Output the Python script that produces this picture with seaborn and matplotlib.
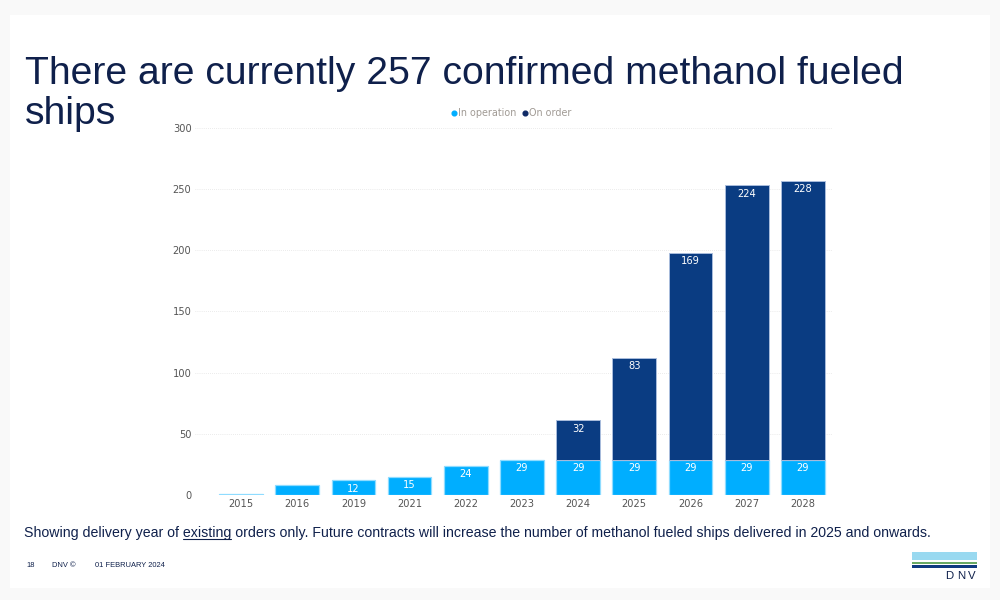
import matplotlib
matplotlib.use("Agg")
import matplotlib.pyplot as plt
from matplotlib.lines import Line2D
from matplotlib.patches import Rectangle
import seaborn as sns

# delivery years on the x axis (2017, 2018 and 2020 are not in the chart)
years = ["2015", "2016", "2019", "2021", "2022", "2023", "2024", "2025", "2026", "2027", "2028"]
in_operation = [1, 8, 12, 15, 24, 29, 29, 29, 29, 29, 29]
order_years = ["2024", "2025", "2026", "2027", "2028"]
on_order = [32, 83, 169, 224, 228]
y_ticks = [0, 50, 100, 150, 200, 250, 300]

# the two smallest bars carry no label
operation_labels = ["", "", "12", "15", "24", "29", "29", "29", "29", "29", "29"]

COLOR_OPERATION = "#00aeff"
COLOR_ORDER = "#0a3c82"
COLOR_TEXT = "#0f204b"
COLOR_TICK = "#555555"

sns.set_theme(style="white")

fig = plt.figure(figsize=(10, 6), dpi=100, facecolor="#f9f9f9")

# white slide on a slightly grey page
fig.add_artist(Rectangle((0.01, 0.02), 0.98, 0.955, transform=fig.transFigure,
                         facecolor="white", edgecolor="none", zorder=-5))

ax = fig.add_axes([0.195, 0.175, 0.637, 0.6117])
ax.patch.set_alpha(0)

sns.barplot(x=years, y=in_operation, order=years, color=COLOR_OPERATION, saturation=1,
            width=0.78, errorbar=None, edgecolor="#8fdcff", linewidth=0.9, ax=ax)
sns.barplot(x=order_years, y=on_order, order=years, color=COLOR_ORDER, saturation=1,
            width=0.78, errorbar=None, edgecolor="#a9bcdc", linewidth=0.7,
            bottom=in_operation[-5:], ax=ax)

ax.bar_label(ax.containers[0], labels=operation_labels, label_type="edge", padding=-9.5,
             color="white", fontsize=7.1)
ax.bar_label(ax.containers[1], labels=[str(v) for v in on_order], label_type="edge", padding=-9.5,
             color="white", fontsize=7.1)

ax.set_xlim(-0.82, 10.52)
ax.set_ylim(0, 300)
ax.set_yticks(y_ticks)
ax.set_xlabel("")
ax.set_ylabel("")
ax.yaxis.grid(True, linestyle=(0, (1, 2)), linewidth=0.5, color="#d8d8d8")
ax.set_axisbelow(True)
ax.tick_params(axis="both", length=0, labelsize=7.1, labelcolor=COLOR_TICK)
ax.tick_params(axis="y", pad=2.5)
ax.tick_params(axis="x", pad=3)
for spine in ax.spines.values():
    spine.set_visible(False)

# legend sits centred above the plot, small round markers
handles = [
    Line2D([], [], linestyle="none", marker="o", markersize=3.4, color=COLOR_OPERATION),
    Line2D([], [], linestyle="none", marker="o", markersize=3.4, color="#0f2a66"),
]
fig.legend(handles, ["In operation", "On order"], loc="center", bbox_to_anchor=(0.51, 0.811),
           ncol=2, frameon=False, fontsize=6.9, labelcolor="#a09a94", handletextpad=-0.1,
           columnspacing=0.4, borderpad=0, handlelength=1)

# slide text
fig.text(0.025, 0.877, "There are currently 257 confirmed methanol fueled", fontsize=28.15,
         family="Liberation Sans", color=COLOR_TEXT, ha="left", va="center")
fig.text(0.025, 0.81, "ships", fontsize=28.15,
         family="Liberation Sans", color=COLOR_TEXT, ha="left", va="center")

before = "Showing delivery year of "
word = "existing"
after = (" orders only. Future contracts will increase the number of methanol fueled"
         " ships delivered in 2025 and onwards.")
note = fig.text(0.024, 0.1117, before + word + after, fontsize=10.17,
                family="Liberation Sans", color=COLOR_TEXT, ha="left", va="center")

# underline under "existing", measured from the rendered text
renderer = fig.canvas.get_renderer()
probe = fig.text(0, 0, before, fontsize=10.17, family="Liberation Sans")
probe2 = fig.text(0, 0, before + word, fontsize=10.17, family="Liberation Sans")
x0 = 0.024 + probe.get_window_extent(renderer).width / 1000
x1 = 0.024 + probe2.get_window_extent(renderer).width / 1000
probe.remove()
probe2.remove()
fig.add_artist(Line2D([x0, x1], [0.1025, 0.1025], color=COLOR_TEXT, linewidth=0.8))

for x, label in [(0.026, "18"), (0.052, "DNV ©"), (0.095, "01 FEBRUARY 2024")]:
    fig.text(x, 0.058, label, fontsize=5.4, family="Liberation Sans", color=COLOR_TEXT,
             ha="left", va="center")

# DNV logo bands
for y, h, c in [(0.0667, 0.0133, "#99d9f0"), (0.06, 0.0033, "#6aaa64"), (0.0533, 0.0055, "#0f3a80")]:
    fig.add_artist(Rectangle((0.912, y), 0.065, h, transform=fig.transFigure,
                             facecolor=c, edgecolor="none"))
for x, letter in [(0.9495, "D"), (0.961, "N"), (0.972, "V")]:
    fig.text(x, 0.04, letter, fontsize=8.2, family="Liberation Sans", color=COLOR_TEXT,
             ha="center", va="center")

fig.savefig("out.png", dpi=100, facecolor=fig.get_facecolor())
